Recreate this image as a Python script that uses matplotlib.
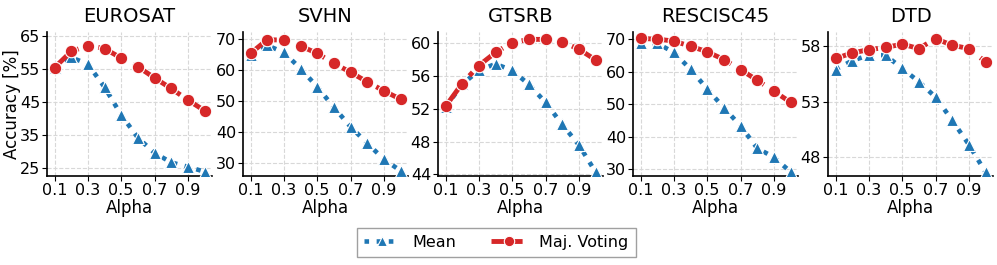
import numpy as np
import matplotlib
matplotlib.use('Agg')
import matplotlib.pyplot as plt
from matplotlib.lines import Line2D

alphas = [0.1, 0.2, 0.3, 0.4, 0.5, 0.6, 0.7, 0.8, 0.9, 1.0]
datasets = ['EUROSAT', 'SVHN', 'GTSRB', 'RESCISC45', 'DTD']

mean_acc = {
    'EUROSAT': [55.3, 58.4, 56.4, 49.4, 41.0, 34.1, 29.5, 26.6, 25.3, 23.8],
    'SVHN': [65.0, 68.0, 65.7, 60.5, 54.6, 48.0, 41.7, 36.4, 31.2, 27.5],
    'GTSRB': [52.2, 55.0, 56.7, 57.5, 56.7, 55.0, 52.8, 50.1, 47.6, 44.3],
    'RESCISC45': [69.0, 68.8, 66.0, 60.8, 54.7, 48.9, 43.3, 36.4, 33.6, 29.1],
    'DTD': [55.9, 56.7, 57.2, 57.2, 56.0, 54.8, 53.4, 51.3, 49.1, 46.6],
}
vote_acc = {
    'EUROSAT': [55.3, 60.2, 62.0, 61.1, 58.2, 55.6, 52.2, 49.0, 45.5, 42.3],
    'SVHN': [65.4, 69.8, 69.7, 67.8, 65.4, 62.2, 59.3, 56.2, 53.3, 50.6],
    'GTSRB': [52.3, 55.1, 57.3, 58.9, 60.1, 60.5, 60.5, 60.2, 59.3, 58.0],
    'RESCISC45': [70.3, 70.1, 69.5, 67.9, 66.2, 63.8, 60.7, 57.4, 54.0, 50.6],
    'DTD': [56.9, 57.4, 57.7, 57.9, 58.2, 57.8, 58.7, 58.1, 57.8, 56.6],
}
yticks = {
    'EUROSAT': [25, 35, 45, 55, 65],
    'SVHN': [30, 40, 50, 60, 70],
    'GTSRB': [44, 48, 52, 56, 60],
    'RESCISC45': [30, 40, 50, 60, 70],
    'DTD': [48, 53, 58],
}
ylims = {
    'EUROSAT': (22.5, 66.1),
    'SVHN': (25.8, 72.3),
    'GTSRB': (43.8, 61.4),
    'RESCISC45': (27.8, 72.3),
    'DTD': (46.25, 59.3),
}
xticks = [0.1, 0.3, 0.5, 0.7, 0.9]

blue = '#1f77b4'
red = '#d62728'

fig = plt.figure(figsize=(9.97, 2.65), dpi=100)
lefts = [47, 243, 438, 633, 828]
for i, name in enumerate(datasets):
    ax = fig.add_axes([lefts[i] / 997, 1 - 176 / 265, 165 / 997, 144 / 265])
    ax.plot(alphas, mean_acc[name], color=blue, ls=':', lw=3.3, marker='^',
            ms=8.5, mec='white', mew=0.8, label='Mean', zorder=3)
    ax.plot(alphas, vote_acc[name], color=red, ls='-.', lw=3.5, marker='o',
            ms=9, mec='white', mew=0.8, label='Maj. Voting', zorder=4)
    ax.set_xlim(0.055, 1.045)
    ax.set_ylim(*ylims[name])
    ax.set_xticks(xticks)
    ax.set_xticklabels([str(x) for x in xticks])
    ax.set_yticks(yticks[name])
    ax.tick_params(labelsize=11.5, length=3.5, pad=1.5)
    ax.grid(True, ls='--', color='#d8d8d8', lw=0.8)
    ax.set_axisbelow(True)
    for s in ['top', 'right']:
        ax.spines[s].set_visible(False)
    for s in ['left', 'bottom']:
        ax.spines[s].set_linewidth(1.2)
    ax.set_title(name, fontsize=14, pad=7)
    ax.set_xlabel('Alpha', fontsize=12, labelpad=1)
    if i == 0:
        ax.set_ylabel('Accuracy [%]', fontsize=12)
        ax.yaxis.set_label_coords(-0.155, 0.5)

handles = [
    Line2D([], [], color=blue, ls=':', lw=3.3, marker='^', ms=7, mec='white', mew=0.8),
    Line2D([], [], color=red, ls='-.', lw=3.5, marker='o', ms=7.5, mec='white', mew=0.8),
]
fig.legend(handles, ['Mean', 'Maj. Voting'], loc='lower center', ncol=2,
           bbox_to_anchor=(0.498, 0.0), fontsize=11.5, frameon=True,
           fancybox=False, edgecolor='#888888', columnspacing=2.2,
           handlelength=2.2, borderpad=0.45)

fig.savefig('out.png', dpi=100)
